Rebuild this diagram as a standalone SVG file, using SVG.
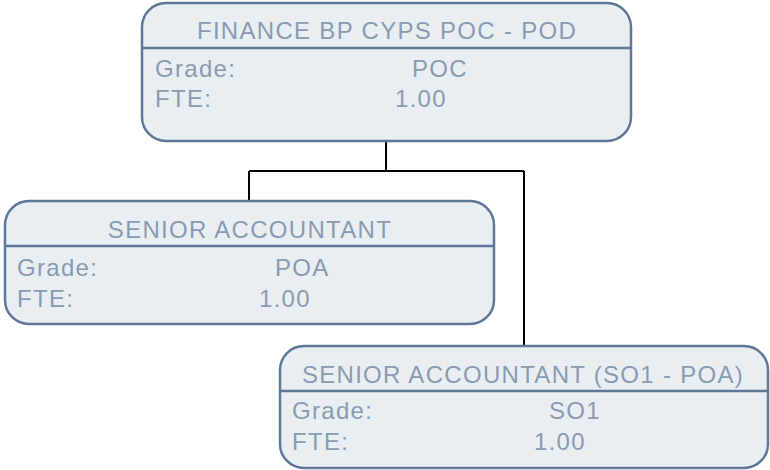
<svg xmlns="http://www.w3.org/2000/svg" width="770" height="470" viewBox="0 0 770 470">
<style>
.box{fill:#e9eef2;stroke:#5f7799;stroke-width:2.5}
.div{stroke:#5f7799;stroke-width:2.5}
text{font-family:"Liberation Sans",Arial,sans-serif;font-size:24px;fill:#8a9bb1;letter-spacing:1.3px}
.t{text-anchor:middle}
.conn{fill:none;stroke:#000;stroke-width:2}
</style>
<rect width="770" height="470" fill="#ffffff"/>
<g id="connectors">
<path class="conn" d="M386 141V171M249 171H524M249 171V201M524 171V346"/>
</g>
<g id="node1">
<rect class="box" x="142" y="3" width="489" height="138" rx="24"/>
<line class="div" x1="142" y1="48" x2="631" y2="48"/>
<text class="t" x="387" y="39">FINANCE BP CYPS POC - POD</text>
<text x="155" y="77">Grade:</text>
<text x="412" y="77">POC</text>
<text x="155" y="107">FTE:</text>
<text x="395" y="107">1.00</text>
</g>
<g id="node2">
<rect class="box" x="5" y="201" width="489" height="123" rx="24"/>
<line class="div" x1="5" y1="246" x2="494" y2="246"/>
<text class="t" x="250" y="238">SENIOR ACCOUNTANT</text>
<text x="17" y="276">Grade:</text>
<text x="275" y="276">POA</text>
<text x="17" y="307">FTE:</text>
<text x="259" y="307">1.00</text>
</g>
<g id="node3">
<rect class="box" x="280" y="346" width="488" height="122" rx="24"/>
<line class="div" x1="280" y1="391" x2="768" y2="391"/>
<text class="t" x="523" y="383">SENIOR ACCOUNTANT (SO1 - POA)</text>
<text x="292" y="419">Grade:</text>
<text x="549" y="419">SO1</text>
<text x="292" y="450">FTE:</text>
<text x="534" y="450">1.00</text>
</g>
</svg>
